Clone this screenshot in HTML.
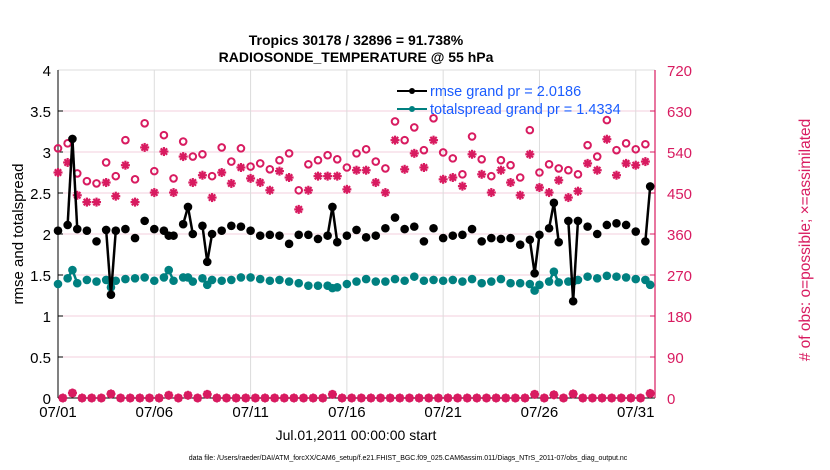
<!DOCTYPE html>
<html><head><meta charset="utf-8"><style>
body{margin:0;background:#fff;}
svg{display:block;font-family:"Liberation Sans",sans-serif;}
</style></head><body>
<svg id="chart" width="830" height="470" viewBox="0 0 830 470" xmlns="http://www.w3.org/2000/svg">
<text x="356" y="45" text-anchor="middle" font-size="14" font-weight="bold">Tropics 30178 / 32896 = 91.738%</text>
<text x="356" y="62" text-anchor="middle" font-size="14" font-weight="bold">RADIOSONDE_TEMPERATURE @ 55 hPa</text>
<g id="grid"></g><g id="axes"></g><g id="marks"></g>
<text transform="translate(23,234) rotate(-90)" text-anchor="middle" font-size="15">rmse and totalspread</text>
<text transform="translate(810,240) rotate(-90)" text-anchor="middle" font-size="15.5" fill="#d81b60"># of obs: o=possible; ×=assimilated</text>
<text x="356" y="440" text-anchor="middle" font-size="14">Jul.01,2011 00:00:00 start</text>
<text x="408" y="460" text-anchor="middle" font-size="7">data file: /Users/raeder/DAI/ATM_forcXX/CAM6_setup/f.e21.FHIST_BGC.f09_025.CAM6assim.011/Diags_NTrS_2011-07/obs_diag_output.nc</text>
<g>
<line x1="397" y1="91" x2="427" y2="91" stroke="#000" stroke-width="2"/><circle cx="412" cy="91" r="3" fill="#000"/>
<text x="430" y="96" font-size="14.5" fill="#1a5cff">rmse grand pr = 2.0186</text>
<line x1="397" y1="109" x2="427" y2="109" stroke="#008080" stroke-width="2"/><circle cx="412" cy="109" r="3" fill="#008080"/>
<text x="430" y="114" font-size="14.5" fill="#1a5cff">totalspread grand pr = 1.4334</text>
</g>
</svg>
<script>
// main 12-hourly times (days since 07/01 00Z)
const mainDays=[0,0.5,1,1.5,2,2.5,3,3.5,4,4.5,5,5.5,6,6.5,7,7.5,8,8.5,9,9.5,10,10.5,11,11.5,12,12.5,13,13.5,14,14.5,15,15.5,16,16.5,17,17.5,18,18.5,19,19.5,20,20.5,21,21.5,22,22.5,23,23.5,24,24.5,25,25.5,26,26.5,27,27.5,28,28.5,29,29.5,30,30.5];
const rmse=[2.04,2.11,2.06,2.04,1.91,2.05,2.04,2.06,1.95,2.16,2.06,2.04,1.98,2.12,2.0,2.10,2.0,2.04,2.10,2.09,2.04,1.98,1.99,1.98,1.88,1.99,1.99,1.94,1.98,1.90,1.98,2.05,1.96,1.98,2.07,2.20,2.06,2.09,1.91,2.07,1.95,1.98,1.99,2.06,1.91,1.95,1.94,1.95,1.87,1.93,1.99,2.07,1.90,2.16,2.16,2.09,2.0,2.11,2.13,2.11,2.03,1.91];
const spread=[1.39,1.46,1.40,1.44,1.42,1.44,1.43,1.45,1.46,1.47,1.43,1.47,1.43,1.47,1.42,1.46,1.44,1.43,1.44,1.47,1.47,1.45,1.43,1.44,1.42,1.40,1.37,1.37,1.37,1.35,1.39,1.42,1.45,1.42,1.42,1.45,1.43,1.48,1.43,1.44,1.43,1.44,1.42,1.45,1.40,1.42,1.45,1.40,1.40,1.39,1.38,1.42,1.41,1.42,1.44,1.48,1.46,1.49,1.48,1.47,1.45,1.44];
const possible=[548,559,493,476,471,517,487,566,480,603,498,577,482,563,530,535,487,550,519,548,508,515,502,522,537,456,513,522,533,524,506,537,546,519,504,607,566,594,544,614,539,526,491,574,524,487,522,511,484,588,495,513,504,500,491,555,530,610,544,559,546,557];
const assimilated=[495,517,445,430,430,473,443,511,430,550,451,541,451,530,473,489,440,495,471,506,482,473,456,498,484,414,456,487,487,487,458,500,500,473,451,566,502,537,506,566,480,484,465,535,491,451,500,473,445,535,462,451,478,440,454,515,500,568,489,515,511,519];
// off-hour (06Z/18Z) times with few obs
const spikeDays=[0.75,2.75,5.75,6.75,7.75,14.25,24.75,25.75,26.75,30.75];
const spikeRmse=[3.16,1.26,1.98,2.33,1.66,2.33,1.52,2.38,1.18,2.58];
const spikeSpread=[1.56,1.35,1.56,1.47,1.38,1.34,1.31,1.54,1.42,1.38];
const spikeObs=[11,9,6,6,8,8,8,7,9,10];
const xTicks=["07/01","07/06","07/11","07/16","07/21","07/26","07/31"];
const yTicks=[0,0.5,1,1.5,2,2.5,3,3.5,4];
const y2Ticks=[0,90,180,270,360,450,540,630,720];

const NS="http://www.w3.org/2000/svg";
const L=58,R=655,T=70,B=398;
const xs=d=>L+d*(R-L)/31;
const ys=v=>B-v*(B-T)/4;
const ys2=n=>B-n*(B-T)/720;
function mk(tag,at,parent){const e=document.createElementNS(NS,tag);for(const k in at)e.setAttribute(k,at[k]);parent.appendChild(e);return e;}
const grid=document.getElementById('grid'),axes=document.getElementById('axes'),marks=document.getElementById('marks');

yTicks.forEach(v=>{
  if(v>0&&v<4){const g=mk('line',{x1:L,x2:R,y1:ys(v),y2:ys(v),stroke:'#f3cfdc','stroke-width':1},grid);
  
  }
  const t=mk('text',{x:L-7,y:ys(v)+6,'text-anchor':'end','font-size':15},axes);t.textContent=String(v);
  
  
  mk('line',{x1:L,x2:L+5,y1:ys(v),y2:ys(v),stroke:'#000'},axes);
});
xTicks.forEach((s,i)=>{
  const x=xs(i*5);
  if(i>0){const g=mk('line',{x1:x,x2:x,y1:T,y2:B,stroke:'#dcdcdc'},grid);
  
  }
  const t=mk('text',{x:x,y:417,'text-anchor':'middle','font-size':15},axes);t.textContent=s;
  
  
});
y2Ticks.forEach(n=>{
  const t=mk('text',{x:R+12,y:ys2(n)+6,'font-size':15,fill:'#d81b60'},axes);t.textContent=String(n);
  
  
  mk('line',{x1:R-5,x2:R,y1:ys2(n),y2:ys2(n),stroke:'#d81b60'},axes);
});
mk('line',{x1:L,x2:R,y1:T,y2:T,stroke:'#dcdcdc'},axes);
mk('line',{x1:L,x2:L,y1:T,y2:B,stroke:'#000'},axes);
mk('line',{x1:L,x2:R,y1:B,y2:B,stroke:'#000'},axes);
mk('line',{x1:R,x2:R,y1:T,y2:B,stroke:'#d81b60','stroke-width':1.2},axes);

function star(x,y,name){
  const g=mk('g',{stroke:'#d81b60','stroke-width':2.2},marks);
  
  
  [[0,4.5],[4.5,0],[3.2,3.2],[3.2,-3.2]].forEach(([a,b])=>mk('line',{x1:x-a,y1:y-b,x2:x+a,y2:y+b},g));
}
function circ(x,y,name){const c=mk('circle',{cx:x,cy:y,r:3.3,fill:'none',stroke:'#d81b60','stroke-width':2},marks);
  
  }
// obs counts
mainDays.forEach((d,i)=>{circ(xs(d),ys2(possible[i]),'possible-obs-point');star(xs(d),ys2(assimilated[i]),'assimilated-obs-point');});
for(let k=0;k<62;k++){const d=0.25+0.5*k;const j=spikeDays.indexOf(d);const n=j>=0?spikeObs[j]:0;
  circ(xs(d),ys2(n),'possible-obs-point');star(xs(d),ys2(n),'assimilated-obs-point');}
spikeDays.forEach((d,j)=>{if(d%0.5!==0.25){circ(xs(d),ys2(spikeObs[j]),'possible-obs-point');star(xs(d),ys2(spikeObs[j]),'assimilated-obs-point');}});

function series(vals,svals,color,name){
  const pts=mainDays.map((d,i)=>[d,vals[i]]).concat(spikeDays.map((d,j)=>[d,svals[j]])).sort((a,b)=>a[0]-b[0]);
  for(let i=1;i<pts.length;i++){
    if(pts[i][0]-pts[i-1][0]<=0.3){const l=mk('line',{x1:xs(pts[i-1][0]),y1:ys(pts[i-1][1]),x2:xs(pts[i][0]),y2:ys(pts[i][1]),stroke:color,'stroke-width':2.5},marks);
      
      }
  }
  pts.forEach(p=>{const c=mk('circle',{cx:xs(p[0]),cy:ys(p[1]),r:4.3,fill:color},marks);
    
    });
}
series(spread,spikeSpread,'#008080','totalspread');
series(rmse,spikeRmse,'#000','rmse');
</script>
</body></html>
